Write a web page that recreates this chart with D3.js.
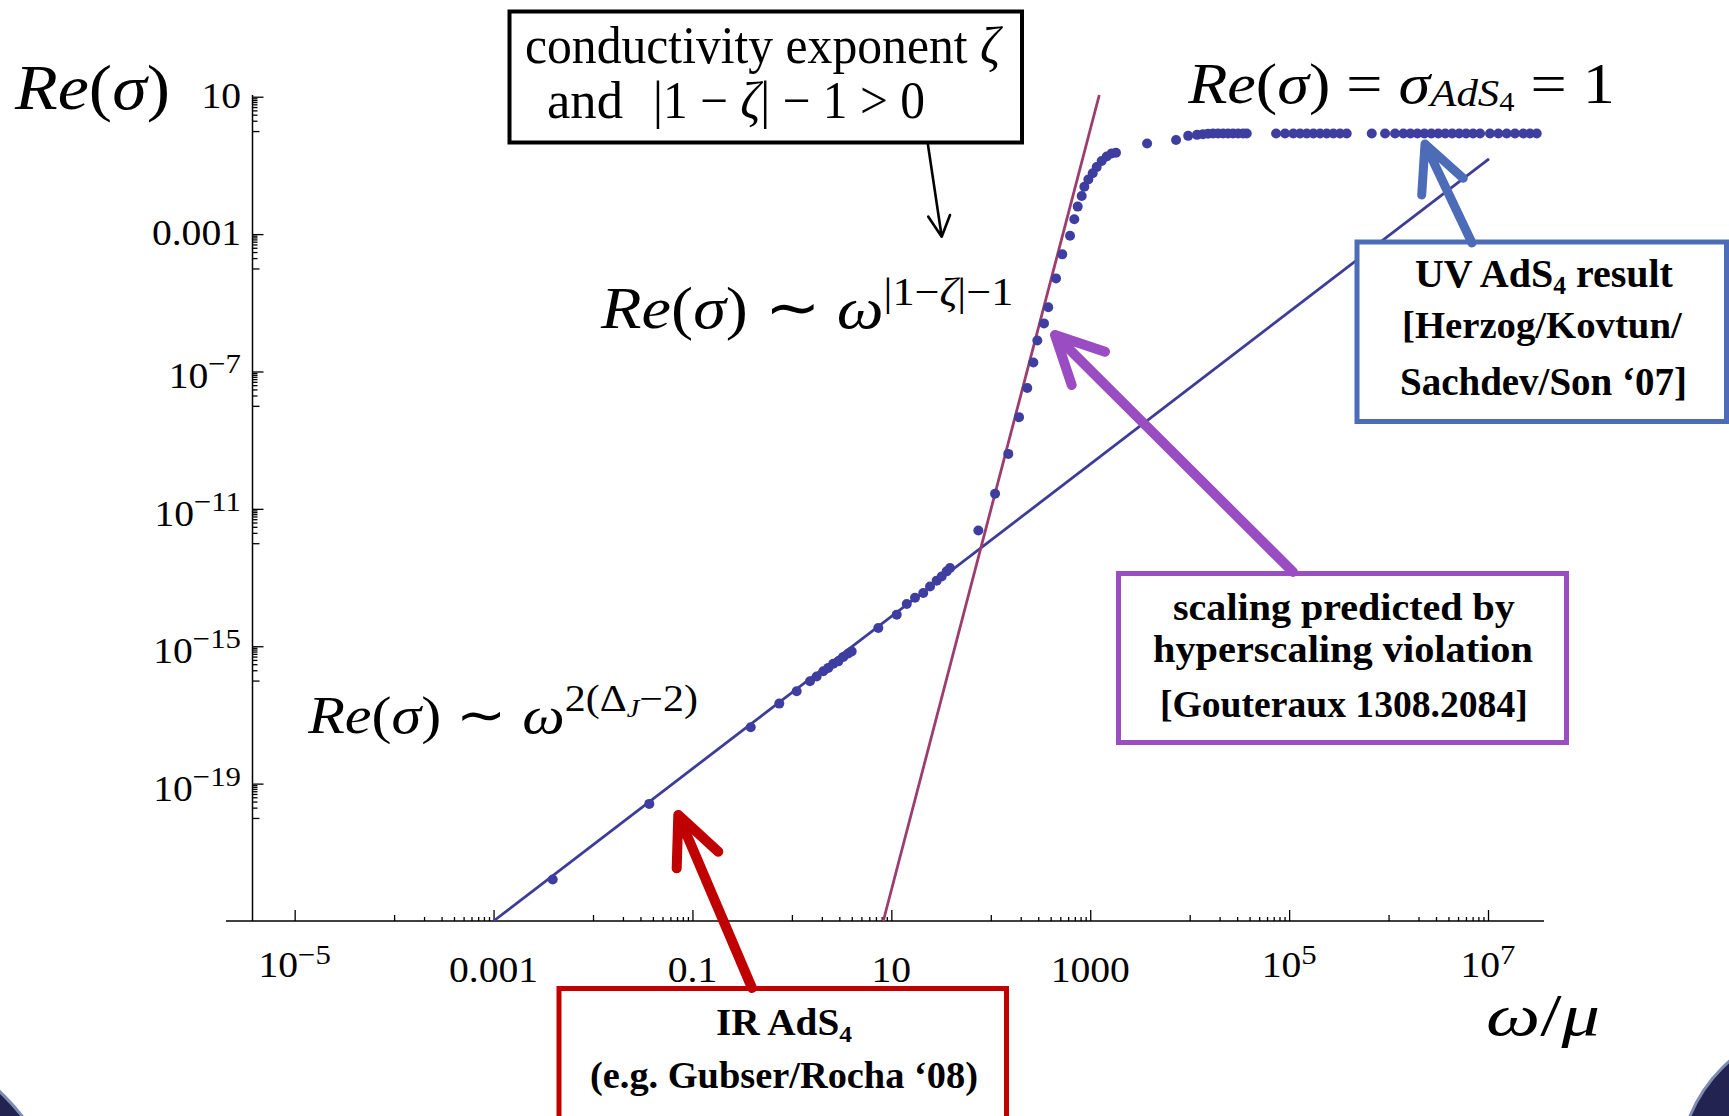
<!DOCTYPE html>
<html>
<head>
<meta charset="utf-8">
<script src="https://cdn.jsdelivr.net/npm/d3@7"></script>
<style>
  body { margin: 0; background: #fff; }
  svg text { font-family: "Liberation Serif", "Times New Roman", serif; fill: #000; white-space: pre; }
</style>
</head>
<body>
<svg id="chart"></svg>
<script>
// tick values and labels
var xMajor = [1e-5, 1e-3, 1e-1, 1e1, 1e3, 1e5, 1e7];
var xTickLabels = [["10", "−5"], ["0.001", ""], ["0.1", ""], ["10", ""], ["1000", ""], ["10", "5"], ["10", "7"]];
var yMajor = [1e1, 1e-3, 1e-7, 1e-11, 1e-15, 1e-19];
var yTickLabels = [["10", ""], ["0.001", ""], ["10", "−7"], ["10", "−11"], ["10", "−15"], ["10", "−19"]];

// numerical points, log10(omega/mu) and log10(Re sigma)
var irLogW = [-2.405, -1.434, -0.414, -0.127, 0.048, 0.182, 0.249, 0.316, 0.366, 0.416, 0.467, 0.517, 0.567, 0.601,
  0.869, 1.054, 1.155, 1.238, 1.321, 1.389, 1.456, 1.506, 1.557, 1.590];
var irLogS = [-21.79, -19.59, -17.36, -16.67, -16.31, -16.02, -15.88, -15.73, -15.63, -15.51, -15.44, -15.31, -15.21, -15.15,
  -14.47, -14.08, -13.77, -13.59, -13.45, -13.26, -13.09, -12.97, -12.82, -12.72];
var midLogW = [1.875, 2.043, 2.176, 2.284, 2.367, 2.428, 2.468, 2.535, 2.578, 2.656, 2.719, 2.797, 2.840, 2.874,
  2.914, 2.941, 2.981, 3.025, 3.065, 3.115, 3.166, 3.216, 3.259];
var midLogS = [-11.63, -10.56, -9.40, -8.33, -7.48, -6.74, -6.10, -5.60, -5.13, -4.29, -3.59, -3.05, -2.57, -2.20,
  -1.89, -1.62, -1.41, -1.23, -1.05, -0.87, -0.74, -0.65, -0.63];
var uvLogW = [3.572, 3.863, 3.985, 4.074, 4.134, 4.185, 4.235, 4.285, 4.336, 4.386, 4.436, 4.487, 4.537, 4.574,
  4.869, 4.959, 5.042, 5.110, 5.177, 5.244, 5.311, 5.378, 5.445, 5.512, 5.579,
  5.831, 5.965, 6.065, 6.149, 6.22, 6.29, 6.36, 6.43, 6.50, 6.57, 6.64, 6.71, 6.78, 6.85, 6.92,
  7.020, 7.104, 7.188, 7.271, 7.355, 7.422, 7.490];
var uvLogS = [-0.36, -0.26, -0.14, -0.11, -0.09, -0.08, -0.07, -0.07, -0.07, -0.07, -0.07, -0.07, -0.07, -0.07,
  -0.07, -0.07, -0.07, -0.07, -0.07, -0.07, -0.07, -0.07, -0.07, -0.07, -0.07,
  -0.07, -0.07, -0.07, -0.07, -0.07, -0.07, -0.07, -0.07, -0.07, -0.07, -0.07, -0.07, -0.07, -0.07, -0.07,
  -0.07, -0.07, -0.07, -0.07, -0.07, -0.07, -0.07];

// the two power-law guide lines (end points)
var irFitLogW = [-3, 7.01];
var irFitLogS = [-23, -0.81];
var hvFitLogW = [0.919, 3.091];
var hvFitLogS = [-23, 1.05];

var W = 1729, H = 1116;
var svg = d3.select("#chart").attr("width", W).attr("height", H);
svg.append("rect").attr("width", W).attr("height", H).attr("fill", "#fff");

// slide frame corners
svg.append("circle").attr("cx", 1830).attr("cy", 1175).attr("r", 152)
  .attr("fill", "#232352").attr("stroke", "#7d8cb2").attr("stroke-width", 3);
svg.append("circle").attr("cx", -150).attr("cy", 1250).attr("r", 218)
  .attr("fill", "#232352").attr("stroke", "#7d8cb2").attr("stroke-width", 3);

var x = d3.scaleLog().domain([Math.pow(10, -5.424), Math.pow(10, 7.563)]).range([252.5, 1544]);
var y = d3.scaleLog().domain([1e-23, Math.pow(10, 1.05)]).range([921, 95]);

function minors(majors, skipFirst) {
  var med = [], small = [];
  majors.forEach(function(v, i) {
    if (skipFirst && i === 0) return;
    med.push(v / 10);
    for (var m = 2; m < 10; m++) small.push(m * v / 10);
  });
  return { med: med, small: small };
}

function ticks(axisFn, scale, vals, size, tr) {
  var g = svg.append("g").attr("transform", tr)
    .call(axisFn(scale).tickValues(vals).tickSize(size).tickSizeOuter(0).tickFormat(""));
  g.select(".domain").remove();
  g.selectAll("line").attr("stroke", "#000").attr("stroke-width", 1.3);
}

var xm = minors(xMajor, true);
var ym = minors(yMajor, false);
ticks(d3.axisBottom, x, xMajor, -11, "translate(0,921)");
ticks(d3.axisBottom, x, xm.med, -6, "translate(0,921)");
ticks(d3.axisBottom, x, xm.small, -4, "translate(0,921)");
ticks(d3.axisLeft, y, yMajor, -11, "translate(252.5,0)");
ticks(d3.axisLeft, y, ym.med, -7, "translate(252.5,0)");
ticks(d3.axisLeft, y, ym.small, -5, "translate(252.5,0)");

svg.append("line").attr("x1", 226).attr("x2", 1544).attr("y1", 921).attr("y2", 921)
  .attr("stroke", "#000").attr("stroke-width", 1.5);
svg.append("line").attr("x1", 252.5).attr("x2", 252.5).attr("y1", 95).attr("y2", 921)
  .attr("stroke", "#000").attr("stroke-width", 1.5);

// tick labels
xMajor.forEach(function(v, i) {
  var lab = xTickLabels[i];
  var base = lab[1] ? 977 : 982;
  var t = svg.append("text").attr("text-anchor", "middle").attr("font-size", 36)
    .attr("transform", "translate(" + x(v) + "," + base + ") scale(1.1,1)");
  t.append("tspan").text(lab[0]);
  if (lab[1]) t.append("tspan").attr("dy", -13).attr("font-size", 28).text(lab[1]);
});
yMajor.forEach(function(v, i) {
  var lab = yTickLabels[i];
  var base = y(v) + (lab[1] ? 17 : 11);
  var t = svg.append("text").attr("text-anchor", "end").attr("font-size", 36)
    .attr("transform", "translate(241," + base + ") scale(1.1,1)");
  t.append("tspan").text(lab[0]);
  if (lab[1]) t.append("tspan").attr("dy", -15).attr("font-size", 28).text(lab[1]);
});

// guide lines
var line = d3.line().x(function(d) { return x(d[0]); }).y(function(d) { return y(d[1]); });
function pts(lw, ls) {
  return lw.map(function(w, i) { return [Math.pow(10, w), Math.pow(10, ls[i])]; });
}
svg.append("path").datum(pts(irFitLogW, irFitLogS)).attr("d", line)
  .attr("fill", "none").attr("stroke", "#3d3d99").attr("stroke-width", 2.8);
svg.append("path").datum(pts(hvFitLogW, hvFitLogS)).attr("d", line)
  .attr("fill", "none").attr("stroke", "#9c3d6e").attr("stroke-width", 2.8);

// numerical points
var dots = pts(irLogW, irLogS).concat(pts(midLogW, midLogS)).concat(pts(uvLogW, uvLogS));
svg.append("g").selectAll("circle").data(dots).enter().append("circle")
  .attr("cx", function(d) { return x(d[0]); })
  .attr("cy", function(d) { return y(d[1]); })
  .attr("r", 5)
  .attr("fill", "#3e3ea0");

// text with sub/superscripts, stretched to the measured width
function rich(parts, x0, x1, base, size, opts) {
  opts = opts || {};
  var t = svg.append("text").attr("y", base).attr("font-size", size);
  if (opts.bold) t.attr("font-weight", "bold");
  var cur = 0;
  parts.forEach(function(p) {
    var s = p.s || 0;
    var ts = t.append("tspan").text(p.t).attr("dy", s - cur).attr("font-size", p.z || size);
    if (p.i) ts.attr("font-style", "italic");
    cur = s;
  });
  var b = t.node().getBBox();
  var k = (x1 - x0) / b.width;
  t.attr("transform", "translate(" + (x0 - k * b.x) + ",0) scale(" + k + ",1)");
  return t;
}

var reSig = [{ t: "Re", i: 1 }, { t: "(" }, { t: "σ", i: 1 }, { t: ")" }];

rich(reSig, 14, 170, 109, 63);
rich(reSig.concat([{ t: " = " }, { t: "σ", i: 1 }, { t: "AdS", i: 1, z: 38, s: 3 },
  { t: "4", z: 27, s: 8 }, { t: " = 1", s: 0 }]), 1187, 1615, 103, 57);
rich(reSig.concat([{ t: " ∼ " }, { t: "ω", i: 1 }, { t: "|1−", z: 40, s: -23 }, { t: "ζ", i: 1, z: 40, s: -23 },
  { t: "|−1", z: 40, s: -23 }]), 600, 1013, 328, 60);
rich(reSig.concat([{ t: " ∼ " }, { t: "ω", i: 1 }, { t: "2(Δ", z: 37, s: -22 }, { t: "J", i: 1, z: 25, s: -16 },
  { t: "−2)", z: 37, s: -22 }]), 307, 697, 733, 53);
rich([{ t: "ω", i: 1 }, { t: "/" }, { t: "μ", i: 1 }], 1486, 1600, 1035, 60);

// annotation boxes
function box(x0, y0, x1, y1, col, sw) {
  svg.append("rect").attr("x", x0).attr("y", y0).attr("width", x1 - x0).attr("height", y1 - y0)
    .attr("fill", "#fff").attr("stroke", col).attr("stroke-width", sw);
}
function arrow(tail, tip, a1, a2, col, sw) {
  svg.append("path")
    .attr("d", "M" + tail + "L" + tip + "M" + a1 + "L" + tip + "L" + a2)
    .attr("fill", "none").attr("stroke", col).attr("stroke-width", sw)
    .attr("stroke-linecap", "round").attr("stroke-linejoin", "round");
}

box(509.5, 11.5, 1022, 142.5, "#000", 4);
rich([{ t: "conductivity exponent " }, { t: "ζ", i: 1 }], 525, 1003, 63, 52);
rich([{ t: "and" }], 547, 623, 118, 52);
rich([{ t: "|1 − " }, { t: "ζ", i: 1 }, { t: "| − 1 > 0" }], 653, 925, 118, 52);
arrow([927.7, 143], [941.7, 236.7], [928.3, 216.7], [950, 215], "#000", 2.6);

box(1357, 242, 1726.5, 421.5, "#4d6cb8", 5);
rich([{ t: "UV AdS" }, { t: "4", z: 25, s: 7 }, { t: " result", s: 0 }], 1415, 1673, 287, 39, { bold: 1 });
rich([{ t: "[Herzog/Kovtun/" }], 1402, 1683, 338, 39, { bold: 1 });
rich([{ t: "Sachdev/Son ‘07]" }], 1400, 1687, 395, 39, { bold: 1 });
arrow([1472, 243], [1425, 144], [1421.7, 195], [1463.3, 178.3], "#4d6cb8", 9);

box(1118.5, 573.5, 1566.5, 742.5, "#9a4fc0", 5);
rich([{ t: "scaling predicted by" }], 1173, 1515, 620, 38, { bold: 1 });
rich([{ t: "hyperscaling violation" }], 1153, 1533, 662, 38, { bold: 1 });
rich([{ t: "[Gouteraux 1308.2084]" }], 1160, 1528, 717, 38, { bold: 1 });
arrow([1293, 572], [1055, 335], [1071.7, 385], [1105, 351.7], "#9a4dc3", 10);

box(559, 988.5, 1006.5, 1130, "#c00000", 5);
rich([{ t: "IR AdS" }, { t: "4", z: 24, s: 7 }], 716, 852, 1035, 37, { bold: 1 });
rich([{ t: "(e.g. Gubser/Rocha ‘08)" }], 590, 978, 1088, 37, { bold: 1 });
arrow([752, 988], [678.3, 815], [676.7, 868.3], [718.3, 851.7], "#c00000", 10);
</script>
</body>
</html>
